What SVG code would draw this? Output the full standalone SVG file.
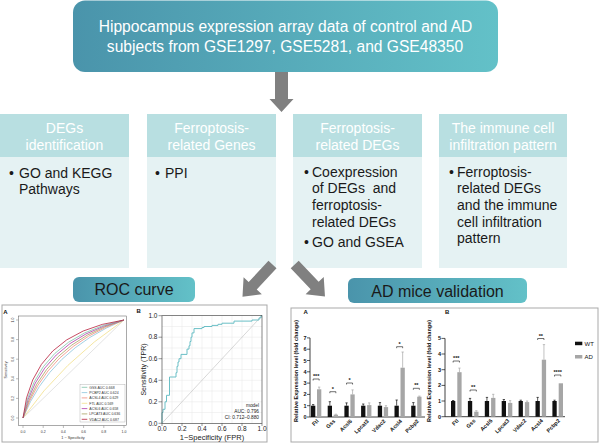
<svg xmlns="http://www.w3.org/2000/svg" width="600" height="444" viewBox="0 0 600 444">
<defs>
<linearGradient id="tg" x1="0" y1="0" x2="1" y2="0">
<stop offset="0" stop-color="#4a94ab"/><stop offset="1" stop-color="#63c1c8"/>
</linearGradient>
<path id="arrDown" d="M0,-6.5 L27,-6.5 L27,-12 L40,0 L27,12 L27,6.5 L0,6.5 Z"/>
<path id="arrDiag" d="M0,-5.5 L29,-5.5 L29,-12.5 L44,0 L29,12.5 L29,5.5 L0,5.5 Z"/>
</defs>
<style>
.sans{font-family:"Liberation Sans",Arial,sans-serif}
.hdr{fill:#b8dfe1}
.body{fill:#e5f2f3}
.ht{font-family:"Liberation Sans",Arial,sans-serif;font-size:14px;fill:#ffffff;text-anchor:middle}
.bt{font-family:"Liberation Sans",Arial,sans-serif;font-size:14px;fill:#1a1a1a}
.arrow{fill:#808080}
.panel{fill:#ffffff;stroke:#a9a9a9;stroke-width:1}
.tk{font-family:"Liberation Sans",Arial,sans-serif;font-size:3.5px;fill:#333}
.tkb{font-family:"Liberation Sans",Arial,sans-serif;font-size:6.5px;fill:#222}
.bl{font-family:"Liberation Sans",Arial,sans-serif;font-size:5.5px;font-weight:bold;fill:#111}
.wt{fill:#111111}
.ad{fill:#a6a6a6}
.eb{stroke-width:0.7;fill:none}
.br{stroke:#111;stroke-width:0.6;fill:none}
.ax{stroke:#111;stroke-width:0.8;fill:none}
.grid{stroke:#e6e6e6;stroke-width:0.5}
</style>

<g id="top-node">
<rect x="73" y="0.5" width="425" height="71.5" rx="12" fill="url(#tg)"/>
<text class="sans" x="285.5" y="32" font-size="15.6" fill="#ffffff" text-anchor="middle">Hippocampus expression array data of control and AD</text>
<text class="sans" x="285" y="52" font-size="15.6" fill="#ffffff" text-anchor="middle">subjects from GSE1297, GSE5281, and GSE48350</text>
</g>

<g id="col-degs">
<rect class="hdr" x="0" y="114" width="129" height="43"/>
<rect class="body" x="0" y="157" width="129" height="111"/>
<text class="ht" x="64.5" y="133.3">DEGs</text>
<text class="ht" x="64.5" y="150">identification</text>
<text class="bt" x="9" y="177.7">•</text>
<text class="bt" x="19" y="177.7">GO and KEGG</text>
<text class="bt" x="19" y="193.7">Pathways</text>
</g>

<g id="col-ferro-genes">
<rect class="hdr" x="147" y="114" width="129" height="43"/>
<rect class="body" x="147" y="157" width="129" height="111"/>
<text class="ht" x="211.5" y="133.3">Ferroptosis-</text>
<text class="ht" x="211.5" y="150">related Genes</text>
<text class="bt" x="155" y="177.7">•</text>
<text class="bt" x="165" y="177.7">PPI</text>
</g>

<g id="col-ferro-degs">
<rect class="hdr" x="293" y="114" width="129" height="43"/>
<rect class="body" x="293" y="157" width="129" height="111"/>
<text class="ht" x="357.5" y="133.3">Ferroptosis-</text>
<text class="ht" x="357.5" y="150">related DEGs</text>
<text class="bt" x="304" y="176.7">•</text>
<text class="bt" x="312" y="176.7">Coexpression</text>
<text class="bt" x="312" y="193.3">of DEGs&#160; and</text>
<text class="bt" x="312" y="210">ferroptosis-</text>
<text class="bt" x="312" y="226.7">related DEGs</text>
<text class="bt" x="304" y="247.3">•</text>
<text class="bt" x="312" y="247.3">GO and GSEA</text>
</g>

<g id="col-immune">
<rect class="hdr" x="439" y="114" width="128" height="43"/>
<rect class="body" x="439" y="157" width="128" height="111"/>
<text class="ht" x="503" y="133.3">The immune cell</text>
<text class="ht" x="503" y="150">infiltration pattern</text>
<text class="bt" x="449" y="176.7">•</text>
<text class="bt" x="457" y="176.7">Ferroptosis-</text>
<text class="bt" x="457" y="193.3">related DEGs</text>
<text class="bt" x="457" y="210">and the immune</text>
<text class="bt" x="457" y="226.7">cell infiltration</text>
<text class="bt" x="457" y="243.3">pattern</text>
</g>

<g id="connectors">
<use href="#arrDown" class="arrow" transform="translate(281.5,72) rotate(90)"/>
<use href="#arrDiag" class="arrow" transform="translate(272.5,264.5) rotate(133)"/>
<use href="#arrDiag" class="arrow" transform="translate(294.7,264.5) rotate(46.5)"/>
</g>

<g id="roc-label">
<rect x="73" y="277" width="122" height="25" rx="6" fill="url(#tg)"/>
<text class="sans" x="134" y="295" font-size="16" fill="#1a1a1a" text-anchor="middle">ROC curve</text>
</g>

<g id="ad-label">
<rect x="348" y="278" width="179" height="25" rx="6" fill="url(#tg)"/>
<text class="sans" x="437.5" y="296.5" font-size="16" fill="#1a1a1a" text-anchor="middle">AD mice validation</text>
</g>

<g id="roc-panel">
<rect class="panel" x="2" y="305" width="265" height="137"/>
<text class="sans" x="3.3" y="314" font-size="6" font-weight="bold" fill="#111">A</text>
<text class="sans" x="136.5" y="313" font-size="6" font-weight="bold" fill="#111">B</text>
<!-- panel A -->
<rect x="18.3" y="316" width="108.4" height="109.7" fill="none" stroke="#555" stroke-width="0.5"/>
<line x1="23" y1="418" x2="124" y2="320" stroke="#d0d0d0" stroke-width="0.6"/>
<g fill="none" stroke-width="0.8">
<path d="M23,418 Q62,362 124,320" stroke="#f2df8a"/>
<path d="M23,418 Q50,350 124,320" stroke="#8cc4dc"/>
<path d="M23,418 Q46,347 124,320" stroke="#f08c7c"/>
<path d="M23,418 Q43,344 124,320" stroke="#a8a060"/>
<path d="M23,418 Q39,341 124,320" stroke="#b03aa8"/>
<path d="M23,418 Q36,338 124,320" stroke="#7fc4a8"/>
<path d="M23,418 Q32,333 124,320" stroke="#b81e3c"/>
</g>
<g stroke="#555" stroke-width="0.4">
<line x1="23" y1="425.7" x2="23" y2="428"/><line x1="43.2" y1="425.7" x2="43.2" y2="428"/><line x1="63.4" y1="425.7" x2="63.4" y2="428"/><line x1="83.6" y1="425.7" x2="83.6" y2="428"/><line x1="103.8" y1="425.7" x2="103.8" y2="428"/><line x1="124" y1="425.7" x2="124" y2="428"/>
<line x1="16" y1="418" x2="18.3" y2="418"/><line x1="16" y1="398.4" x2="18.3" y2="398.4"/><line x1="16" y1="378.8" x2="18.3" y2="378.8"/><line x1="16" y1="359.2" x2="18.3" y2="359.2"/><line x1="16" y1="339.6" x2="18.3" y2="339.6"/><line x1="16" y1="320" x2="18.3" y2="320"/>
</g>
<g class="tk" text-anchor="middle">
<text x="23" y="432.5">0.0</text><text x="43.2" y="432.5">0.2</text><text x="63.4" y="432.5">0.4</text><text x="83.6" y="432.5">0.6</text><text x="103.8" y="432.5">0.8</text><text x="124" y="432.5">1.0</text>
<text transform="translate(13.5,418) rotate(-90)">0.0</text>
<text transform="translate(13.5,398.4) rotate(-90)">0.2</text>
<text transform="translate(13.5,378.8) rotate(-90)">0.4</text>
<text transform="translate(13.5,359.2) rotate(-90)">0.6</text>
<text transform="translate(13.5,339.6) rotate(-90)">0.8</text>
<text transform="translate(13.5,320) rotate(-90)">1.0</text>
<text x="73" y="438.5" font-size="3.8">1 − Specificity</text>
<text transform="translate(7,370) rotate(-90)" font-size="3.8">Sensitivity</text>
</g>
<rect x="80" y="384.5" width="45" height="37.5" fill="#fff" stroke="#888" stroke-width="0.3"/>
<g stroke-width="0.8">
<line x1="81.7" y1="387.3" x2="87.3" y2="387.3" stroke="#7fc4a8"/>
<line x1="81.7" y1="392.6" x2="87.3" y2="392.6" stroke="#8cc4dc"/>
<line x1="81.7" y1="397.9" x2="87.3" y2="397.9" stroke="#f08c7c"/>
<line x1="81.7" y1="403.3" x2="87.3" y2="403.3" stroke="#f2df8a"/>
<line x1="81.7" y1="408.6" x2="87.3" y2="408.6" stroke="#b03aa8"/>
<line x1="81.7" y1="413.9" x2="87.3" y2="413.9" stroke="#a8a060"/>
<line x1="81.7" y1="419.3" x2="87.3" y2="419.3" stroke="#b81e3c"/>
</g>
<g class="tk" font-size="3.2">
<text x="89.3" y="388.5">GSS AUC 0.668</text>
<text x="89.3" y="393.8">PCBP2 AUC 0.624</text>
<text x="89.3" y="399.1">ACSL4 AUC 0.629</text>
<text x="89.3" y="404.5">FTL AUC 0.569</text>
<text x="89.3" y="409.8">ACSL6 AUC 0.658</text>
<text x="89.3" y="415.1">LPCAT3 AUC 0.636</text>
<text x="89.3" y="420.5">VDAC2 AUC 0.687</text>
</g>
<!-- panel B -->
<g class="grid">
<line x1="172" y1="315.7" x2="172" y2="423.3"/><line x1="182" y1="315.7" x2="182" y2="423.3"/><line x1="192" y1="315.7" x2="192" y2="423.3"/><line x1="202" y1="315.7" x2="202" y2="423.3"/><line x1="212" y1="315.7" x2="212" y2="423.3"/><line x1="222" y1="315.7" x2="222" y2="423.3"/><line x1="232" y1="315.7" x2="232" y2="423.3"/><line x1="242" y1="315.7" x2="242" y2="423.3"/><line x1="252" y1="315.7" x2="252" y2="423.3"/>
<line x1="162" y1="412.5" x2="262" y2="412.5"/><line x1="162" y1="401.8" x2="262" y2="401.8"/><line x1="162" y1="391" x2="262" y2="391"/><line x1="162" y1="380.3" x2="262" y2="380.3"/><line x1="162" y1="369.5" x2="262" y2="369.5"/><line x1="162" y1="358.7" x2="262" y2="358.7"/><line x1="162" y1="348" x2="262" y2="348"/><line x1="162" y1="337.2" x2="262" y2="337.2"/><line x1="162" y1="326.5" x2="262" y2="326.5"/>
</g>
<line x1="162" y1="423.3" x2="262" y2="315.7" stroke="#bdbdbd" stroke-width="0.6"/>
<path d="M162,423.3 V412.5 H163 V409.3 H165 V401.8 H166.5 V395.3 H169.5 V377 H176 V372.7 H177 V366.3 H178 V362 H179 V358.7 H181 V354.4 H187 V349.1 H189 V345.8 H190 V341.5 H191 V337.2 H192 V332.9 H194 V328.6 H202 V327.5 H204 V326.5 H212 V325.4 H218 V324.3 H222 V323.2 H234 V321.1 H252 V320 H259 V317.9 H261 V315.7 H262" fill="none" stroke="#6bbfc6" stroke-width="1"/>
<rect x="162" y="315.7" width="100" height="107.6" fill="none" stroke="#333" stroke-width="0.6"/>
<g stroke="#333" stroke-width="0.5">
<line x1="158.5" y1="423.3" x2="162" y2="423.3"/><line x1="158.5" y1="401.8" x2="162" y2="401.8"/><line x1="158.5" y1="380.3" x2="162" y2="380.3"/><line x1="158.5" y1="358.7" x2="162" y2="358.7"/><line x1="158.5" y1="337.2" x2="162" y2="337.2"/><line x1="158.5" y1="315.7" x2="162" y2="315.7"/>
<line x1="162" y1="423.3" x2="162" y2="426"/><line x1="182" y1="423.3" x2="182" y2="426"/><line x1="202" y1="423.3" x2="202" y2="426"/><line x1="222" y1="423.3" x2="222" y2="426"/><line x1="242" y1="423.3" x2="242" y2="426"/><line x1="262" y1="423.3" x2="262" y2="426"/>
</g>
<g class="tkb" text-anchor="end">
<text x="157.5" y="425.5">0.0</text><text x="157.5" y="404">0.2</text><text x="157.5" y="382.5">0.4</text><text x="157.5" y="360.9">0.6</text><text x="157.5" y="339.4">0.8</text><text x="157.5" y="317.9">1.0</text>
</g>
<g class="tkb" text-anchor="middle">
<text x="162" y="431">0.0</text><text x="182" y="431">0.2</text><text x="202" y="431">0.4</text><text x="222" y="431">0.6</text><text x="242" y="431">0.8</text><text x="262" y="431">1.0</text>
<text x="212" y="439.5" font-size="7.5">1−Specificity (FPR)</text>
<text transform="translate(146,369.5) rotate(-90)" font-size="7">Sensitivity (TPR)</text>
</g>
<g class="sans" font-size="4.8" fill="#222" text-anchor="end">
<text x="259" y="407">model</text>
<text x="259" y="413">AUC: 0.796</text>
<text x="259" y="419">CI: 0.712–0.880</text>
</g>
</g>

<g id="validation-panel">
<rect class="panel" x="291" y="308" width="307" height="134"/>
<text class="sans" x="303.5" y="313.5" font-size="6" font-weight="bold" fill="#111">A</text>
<text class="sans" x="445" y="314" font-size="6" font-weight="bold" fill="#111">B</text>
<!-- chart A -->
<text class="bl" transform="translate(297.5,371) rotate(-90)" text-anchor="middle" font-size="6.8">Relative Expression level (fold change)</text>
<path class="ax" d="M310,337.9 V417 H425"/>
<g stroke="#111" stroke-width="0.7">
<line x1="307" y1="417" x2="310" y2="417"/><line x1="307" y1="405.7" x2="310" y2="405.7"/><line x1="307" y1="394.4" x2="310" y2="394.4"/><line x1="307" y1="383.1" x2="310" y2="383.1"/><line x1="307" y1="371.8" x2="310" y2="371.8"/><line x1="307" y1="360.5" x2="310" y2="360.5"/><line x1="307" y1="349.2" x2="310" y2="349.2"/><line x1="307" y1="337.9" x2="310" y2="337.9"/>
</g>
<g class="bl" text-anchor="end">
<text x="306.5" y="419">0</text><text x="306.5" y="407.7">1</text><text x="306.5" y="396.4">2</text><text x="306.5" y="385.1">3</text><text x="306.5" y="373.8">4</text><text x="306.5" y="362.5">5</text><text x="306.5" y="351.2">6</text><text x="306.5" y="339.9">7</text>
</g>
<g class="wt">
<rect x="311" y="405.7" width="4.3" height="11.3"/><rect x="327.7" y="405.7" width="4.3" height="11.3"/><rect x="344.4" y="405.7" width="4.3" height="11.3"/><rect x="361.1" y="405.7" width="4.3" height="11.3"/><rect x="377.8" y="405.7" width="4.3" height="11.3"/><rect x="394.5" y="405.7" width="4.3" height="11.3"/><rect x="411.2" y="405.7" width="4.3" height="11.3"/>
</g>
<g class="ad">
<rect x="317" y="389.3" width="4.3" height="27.7"/><rect x="333.7" y="414.7" width="4.3" height="2.3"/><rect x="350.4" y="394.4" width="4.3" height="22.6"/><rect x="367.1" y="405.1" width="4.3" height="11.9"/><rect x="383.8" y="407.1" width="4.3" height="9.9"/><rect x="400.5" y="367.7" width="4.3" height="49.3"/><rect x="417.2" y="396.7" width="4.3" height="20.3"/>
</g>
<g class="eb" stroke="#111">
<path d="M313.15,405.7 V404.6 M312,404.6 H314.3"/>
<path d="M329.85,405.7 V401.7 M328.7,401.7 H331"/>
<path d="M346.55,405.7 V402.9 M345.4,402.9 H347.7"/>
<path d="M363.25,405.7 V404 M362.1,404 H364.4"/>
<path d="M379.95,405.7 V402.6 M378.8,402.6 H381.1"/>
<path d="M396.65,405.7 V400 M395.5,400 H397.8"/>
<path d="M413.35,405.7 V402.6 M412.2,402.6 H414.5"/>
</g>
<g class="eb" stroke="#a6a6a6">
<path d="M319.15,389.3 V387.1 M318,387.1 H320.3"/>
<path d="M335.85,414.7 V414.2 M334.7,414.2 H337"/>
<path d="M352.55,394.4 V389.9 M351.4,389.9 H353.7"/>
<path d="M369.25,405.1 V402.9 M368.1,402.9 H370.4"/>
<path d="M385.95,407.1 V405.7 M384.8,405.7 H387.1"/>
<path d="M402.65,367.7 V352 M401.5,352 H403.8"/>
<path d="M419.35,396.7 V396.1 M418.2,396.1 H420.5"/>
</g>
<g class="br">
<path d="M313.15,380.5 V379 H319.15 V380.5"/>
<path d="M329.85,393.2 V391.7 H335.85 V393.2"/>
<path d="M346.55,384.5 V383 H352.55 V384.5"/>
<path d="M396.65,348.2 V346.7 H402.65 V348.2"/>
<path d="M413.35,389.8 V388.3 H419.35 V389.8"/>
</g>
<g class="bl" text-anchor="middle">
<text x="316.15" y="378">***</text>
<text x="332.85" y="390.7">*</text>
<text x="349.55" y="382">*</text>
<text x="399.65" y="345.7">*</text>
<text x="416.35" y="387.3">**</text>
</g>
<g class="bl" text-anchor="end">
<text transform="translate(319,421.5) rotate(-45)">Ftl</text>
<text transform="translate(335.7,421.5) rotate(-45)">Gss</text>
<text transform="translate(352.4,421.5) rotate(-45)">Acsl6</text>
<text transform="translate(369.1,421.5) rotate(-45)">Lpcat3</text>
<text transform="translate(385.8,421.5) rotate(-45)">Vdac2</text>
<text transform="translate(402.5,421.5) rotate(-45)">Acsl4</text>
<text transform="translate(419.2,421.5) rotate(-45)">Pcbp2</text>
</g>
<!-- chart B -->
<text class="bl" transform="translate(430.5,371) rotate(-90)" text-anchor="middle" font-size="6.8">Relative Expression level (fold change)</text>
<path class="ax" d="M445,338.4 V416.7 H565"/>
<g stroke="#111" stroke-width="0.7">
<line x1="441.5" y1="416.7" x2="445" y2="416.7"/><line x1="441.5" y1="401" x2="445" y2="401"/><line x1="441.5" y1="385.4" x2="445" y2="385.4"/><line x1="441.5" y1="369.7" x2="445" y2="369.7"/><line x1="441.5" y1="354" x2="445" y2="354"/><line x1="441.5" y1="338.4" x2="445" y2="338.4"/>
</g>
<g class="bl" text-anchor="end">
<text x="441" y="418.7">0</text><text x="441" y="403">1</text><text x="441" y="387.4">2</text><text x="441" y="371.7">3</text><text x="441" y="356">4</text><text x="441" y="340.4">5</text>
</g>
<g class="wt">
<rect x="451" y="401" width="4.3" height="15.7"/><rect x="467.9" y="401" width="4.3" height="15.7"/><rect x="484.8" y="401" width="4.3" height="15.7"/><rect x="501.7" y="401" width="4.3" height="15.7"/><rect x="518.6" y="401" width="4.3" height="15.7"/><rect x="535.5" y="401" width="4.3" height="15.7"/><rect x="552.4" y="401" width="4.3" height="15.7"/>
</g>
<g class="ad">
<rect x="457.3" y="372.2" width="4.3" height="44.5"/><rect x="474.2" y="411.7" width="4.3" height="5"/><rect x="491.1" y="397.9" width="4.3" height="18.8"/><rect x="508" y="402.9" width="4.3" height="13.8"/><rect x="524.9" y="402.1" width="4.3" height="14.6"/><rect x="541.8" y="359.7" width="4.3" height="57"/><rect x="558.7" y="383.3" width="4.3" height="33.4"/>
</g>
<g class="eb" stroke="#111">
<path d="M453.15,401 V400.5 M452,400.5 H454.3"/>
<path d="M470.05,401 V398.4 M468.9,398.4 H471.2"/>
<path d="M486.95,401 V397.4 M485.8,397.4 H488.1"/>
<path d="M503.85,401 V399.5 M502.7,399.5 H505"/>
<path d="M520.75,401 V400.2 M519.6,400.2 H521.9"/>
<path d="M537.65,401 V397.4 M536.5,397.4 H538.8"/>
<path d="M554.55,401 V400.2 M553.4,400.2 H555.7"/>
</g>
<g class="eb" stroke="#a6a6a6">
<path d="M459.45,372.2 V368.1 M458.3,368.1 H460.6"/>
<path d="M476.35,411.7 V410.7 M475.2,410.7 H477.5"/>
<path d="M493.25,397.9 V394.3 M492.1,394.3 H494.4"/>
<path d="M510.15,402.9 V400.6 M509,400.6 H511.3"/>
<path d="M527.05,402.1 V401 M525.9,401 H528.2"/>
<path d="M543.95,359.7 V344.6 M542.8,344.6 H545.1"/>
</g>
<g class="br">
<path d="M453.15,362.5 V361 H459.45 V362.5"/>
<path d="M470.05,391.5 V390 H476.35 V391.5"/>
<path d="M537.65,340 V338.5 H543.95 V340"/>
<path d="M554.55,376.5 V375 H560.85 V376.5"/>
</g>
<g class="bl" text-anchor="middle">
<text x="456.3" y="360">***</text>
<text x="473.2" y="389">**</text>
<text x="540.8" y="337.5">**</text>
<text x="557.7" y="374">****</text>
</g>
<g class="bl" text-anchor="end">
<text transform="translate(459,421.2) rotate(-45)">Ftl</text>
<text transform="translate(475.9,421.2) rotate(-45)">Gss</text>
<text transform="translate(492.8,421.2) rotate(-45)">Acsl6</text>
<text transform="translate(509.7,421.2) rotate(-45)">Lpcat3</text>
<text transform="translate(526.6,421.2) rotate(-45)">Vdac2</text>
<text transform="translate(543.5,421.2) rotate(-45)">Acsl4</text>
<text transform="translate(560.4,421.2) rotate(-45)">Pcbp2</text>
</g>
<rect class="wt" x="575" y="341.7" width="7.3" height="3.5"/>
<rect class="ad" x="575" y="355" width="7.3" height="3.5"/>
<g class="sans" font-size="6" fill="#111">
<text x="584.5" y="345.8">WT</text>
<text x="584.5" y="359.1">AD</text>
</g>
</g>
</svg>
